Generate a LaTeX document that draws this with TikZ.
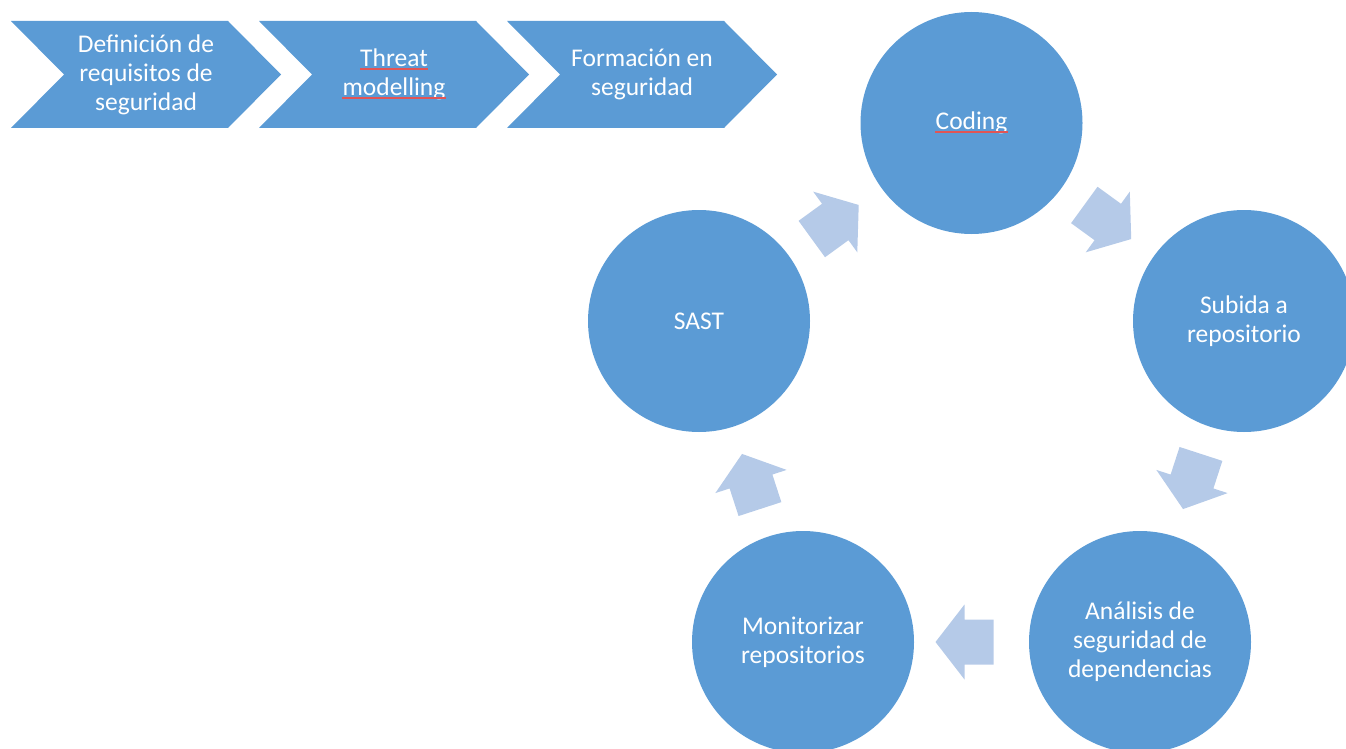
\documentclass[tikz,border=0pt]{standalone}
\usepackage{fontspec}
\setmainfont{Carlito}
\usetikzlibrary{calc}

\definecolor{stageblue}{RGB}{91,155,213}
\definecolor{flowtint}{RGB}{181,202,232}
\definecolor{spellred}{RGB}{225,85,85}

\begin{document}
\begin{tikzpicture}[
  x=1pt, y=-1pt,
  labelfont/.style={text=white, align=center, inner sep=0pt,
    font=\fontsize{25.5}{29}\selectfont},
  chevtext/.style={labelfont},
  stage/.style={circle, fill=stageblue, minimum size=222pt, labelfont},
  chevshape/.style={fill=stageblue},
  proofmark/.style={draw=spellred, line width=1.5pt},
  cyclearrow/.pic={
    \fill[flowtint] (-29,-22.5) -- (0,-22.5) -- (0,-37.5) -- (29,0)
      -- (0,37.5) -- (0,22.5) -- (-29,22.5) -- cycle;
  }
]
\useasboundingbox (0,0) rectangle (1346,749);
\clip (0,0) rectangle (1346,749);

% process chevrons along the top
\foreach \x in {11,259,507}
  \fill[chevshape] (\x,21) -- ++(217,0) -- ++(53,53.5) -- ++(-53,53.5)
    -- ++(-217,0) -- ++(53,-53.5) -- cycle;

\node[chevtext] (req) at (146,74.5) {Definición de\\requisitos de\\seguridad};
\node[chevtext, anchor=base] (threatword) at (394,67) {Threat};
\node[chevtext, anchor=base] (modelword)  at (394,96) {modelling};
\node[chevtext] (train) at (642,74.5) {Formación en\\seguridad};

% development cycle
\node[stage] (coding)  at (971.5,123) {};
\node[labelfont] (codingword) at (coding) {Coding};
\node[stage] (upload)  at (1244,321)  {Subida a\\repositorio};
\node[stage] (deps)    at (1140,642)  {Análisis de\\seguridad de\\dependencias};
\node[stage] (monitor) at (803,642)   {Monitorizar\\repositorios};
\node[stage] (sast)    at (699,321)   {SAST};

% proofing marks under the unchecked words
\draw[proofmark] ($(threatword.base west)+(0,2)$) -- ($(threatword.base east)+(0,2)$);
\draw[proofmark] ($(modelword.base west)+(0,2)$) -- ($(modelword.base east)+(0,2)$);
\draw[proofmark] ($(codingword.base west)+(0,2.5)$) -- ($(codingword.base east)+(0,2.5)$);

% block arrows between the stages
\pic[rotate=36]   at ($(sast)!0.5!(coding)$)            {cyclearrow};
\pic[rotate=-36]  at ($(coding)!0.5!(upload)$)          {cyclearrow};
\pic[rotate=-108] at ($(upload)!0.5!(deps)$)            {cyclearrow};
\pic[rotate=180]  at ($(deps)!0.5!(monitor)+(-7,0)$)    {cyclearrow};
\pic[rotate=108]  at ($(monitor)!0.5!(sast)$)           {cyclearrow};
\end{tikzpicture}
\end{document}
